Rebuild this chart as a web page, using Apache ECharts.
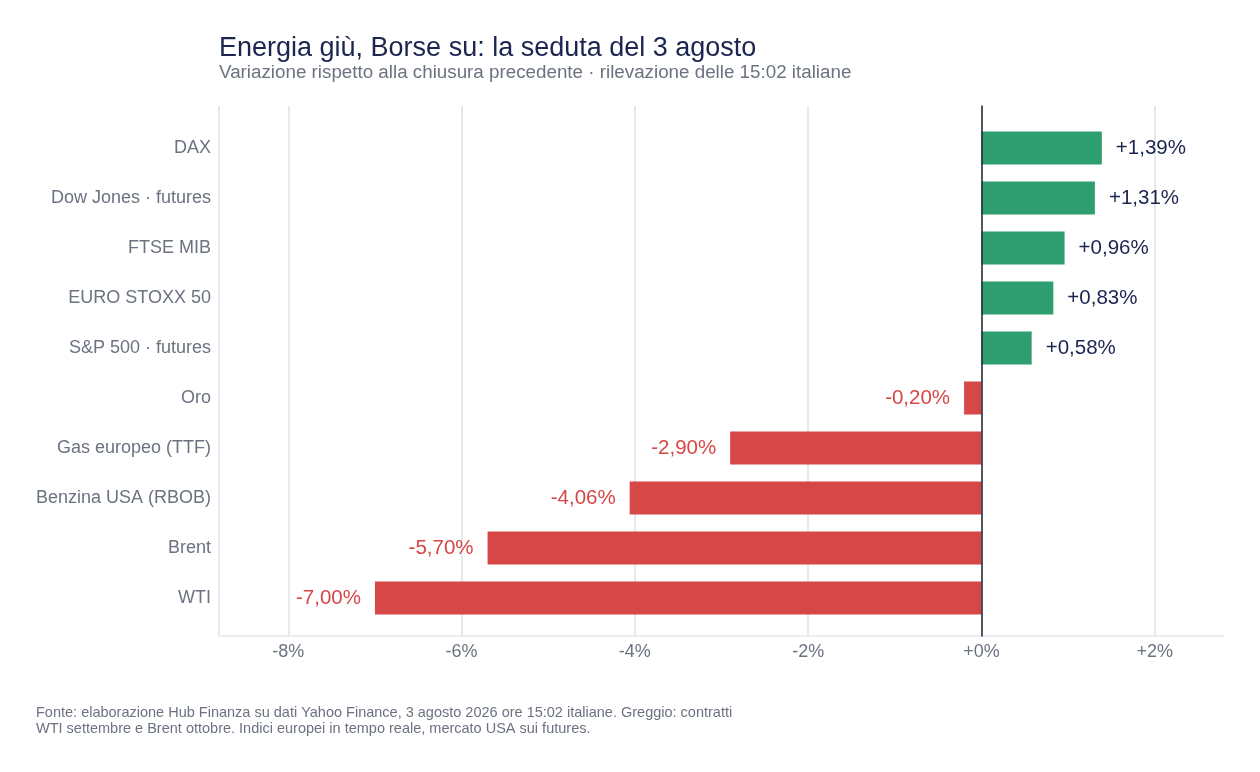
<!DOCTYPE html>
<html>
<head>
<meta charset="utf-8">
<script src="https://cdn.jsdelivr.net/npm/echarts@6/dist/echarts.min.js"></script>
<style>
html,body{margin:0;padding:0;background:#fff;}
#chart{width:1260px;height:772px;}
</style>
</head>
<body>
<div id="chart"></div>
<script>
const categories = ['DAX','Dow Jones · futures','FTSE MIB','EURO STOXX 50','S&P 500 · futures','Oro','Gas europeo (TTF)','Benzina USA (RBOB)','Brent','WTI'];
const values = [1.39, 1.31, 0.96, 0.83, 0.58, -0.20, -2.90, -4.06, -5.70, -7.00];
const xTicks = [-8, -6, -4, -2, 0, 2];

const FONT = '"Liberation Sans", Arial, Helvetica, sans-serif';
const GREEN = '#2e9e70';
const RED = '#d64747';
const NAVY = '#1c2450';
const GRAY = '#6b7280';
const GRID = '#e6e8ef';

function fmt(v){
  const s = Math.abs(v).toFixed(2).replace('.', ',');
  return (v >= 0 ? '+' : '-') + s + '%';
}

const chart = echarts.init(document.getElementById('chart'), null, {renderer:'canvas'});
const option = {
  backgroundColor: '#fff',
  animation: false,
  textStyle: {fontFamily: FONT},
  title: [
    {text: 'Energia giù, Borse su: la seduta del 3 agosto', left: 214, top: 30,
     textStyle: {fontFamily: FONT, fontSize: 27, fontWeight: 'normal', color: NAVY}},
    {text: 'Variazione rispetto alla chiusura precedente · rilevazione delle 15:02 italiane', left: 214, top: 58,
     textStyle: {fontFamily: FONT, fontSize: 18.8, fontWeight: 'normal', color: GRAY}},
    {text: 'Fonte: elaborazione Hub Finanza su dati Yahoo Finance, 3 agosto 2026 ore 15:02 italiane. Greggio: contratti\nWTI settembre e Brent ottobre. Indici europei in tempo reale, mercato USA sui futures.',
     left: 31, top: 700,
     textStyle: {fontFamily: FONT, fontSize: 14.5, fontWeight: 'normal', color: GRAY, lineHeight: 16}}
  ],
  grid: [
    {left: 219, right: 36, top: 106, bottom: 136},
    {left: 219, right: 36, top: 123, bottom: 149}
  ],
  xAxis: [
    {type: 'value', gridIndex: 0, min: -8.8, max: 2.8, splitNumber: 6,
     axisLine: {show: true, lineStyle: {color: GRID, width: 1.5}},
     axisTick: {show: false},
     axisLabel: {color: GRAY, fontSize: 18, fontFamily: FONT, margin: 7,
       formatter: function(v){ return xTicks.indexOf(v) >= 0 ? (v >= 0 ? '+' : '') + v + '%' : ''; }},
     splitLine: {show: true, lineStyle: {color: [GRID, GRID, GRID, GRID, GRID, GRID, GRID, 'rgba(0,0,0,0)'], width: 2}}},
    {type: 'value', gridIndex: 1, min: -8.8, max: 2.8, show: false, splitLine: {show: false}}
  ],
  yAxis: [
    {type: 'category', gridIndex: 0, data: [''],
     axisLine: {show: true, onZero: true, lineStyle: {color: '#222633', width: 1.5}},
     axisTick: {show: false}, axisLabel: {show: false}, splitLine: {show: false}, z: 5},
    {type: 'category', gridIndex: 1, data: categories, inverse: true,
     axisLine: {show: false}, axisTick: {show: false},
     axisLabel: {color: GRAY, fontSize: 18, fontFamily: FONT, margin: 8}}
  ],
  series: [
    {type: 'bar', xAxisIndex: 1, yAxisIndex: 1, barCategoryGap: '34%', z: 3,
     data: values.map(function(v){
       return {value: v,
         itemStyle: {color: v >= 0 ? GREEN : RED},
         label: {show: true, position: v >= 0 ? 'right' : 'left', distance: 14,
           color: v >= 0 ? NAVY : RED, fontSize: 20.5, fontFamily: FONT,
           formatter: function(){ return fmt(v); }}};
     })}
  ]
};
chart.setOption(option);
</script>
</body>
</html>
